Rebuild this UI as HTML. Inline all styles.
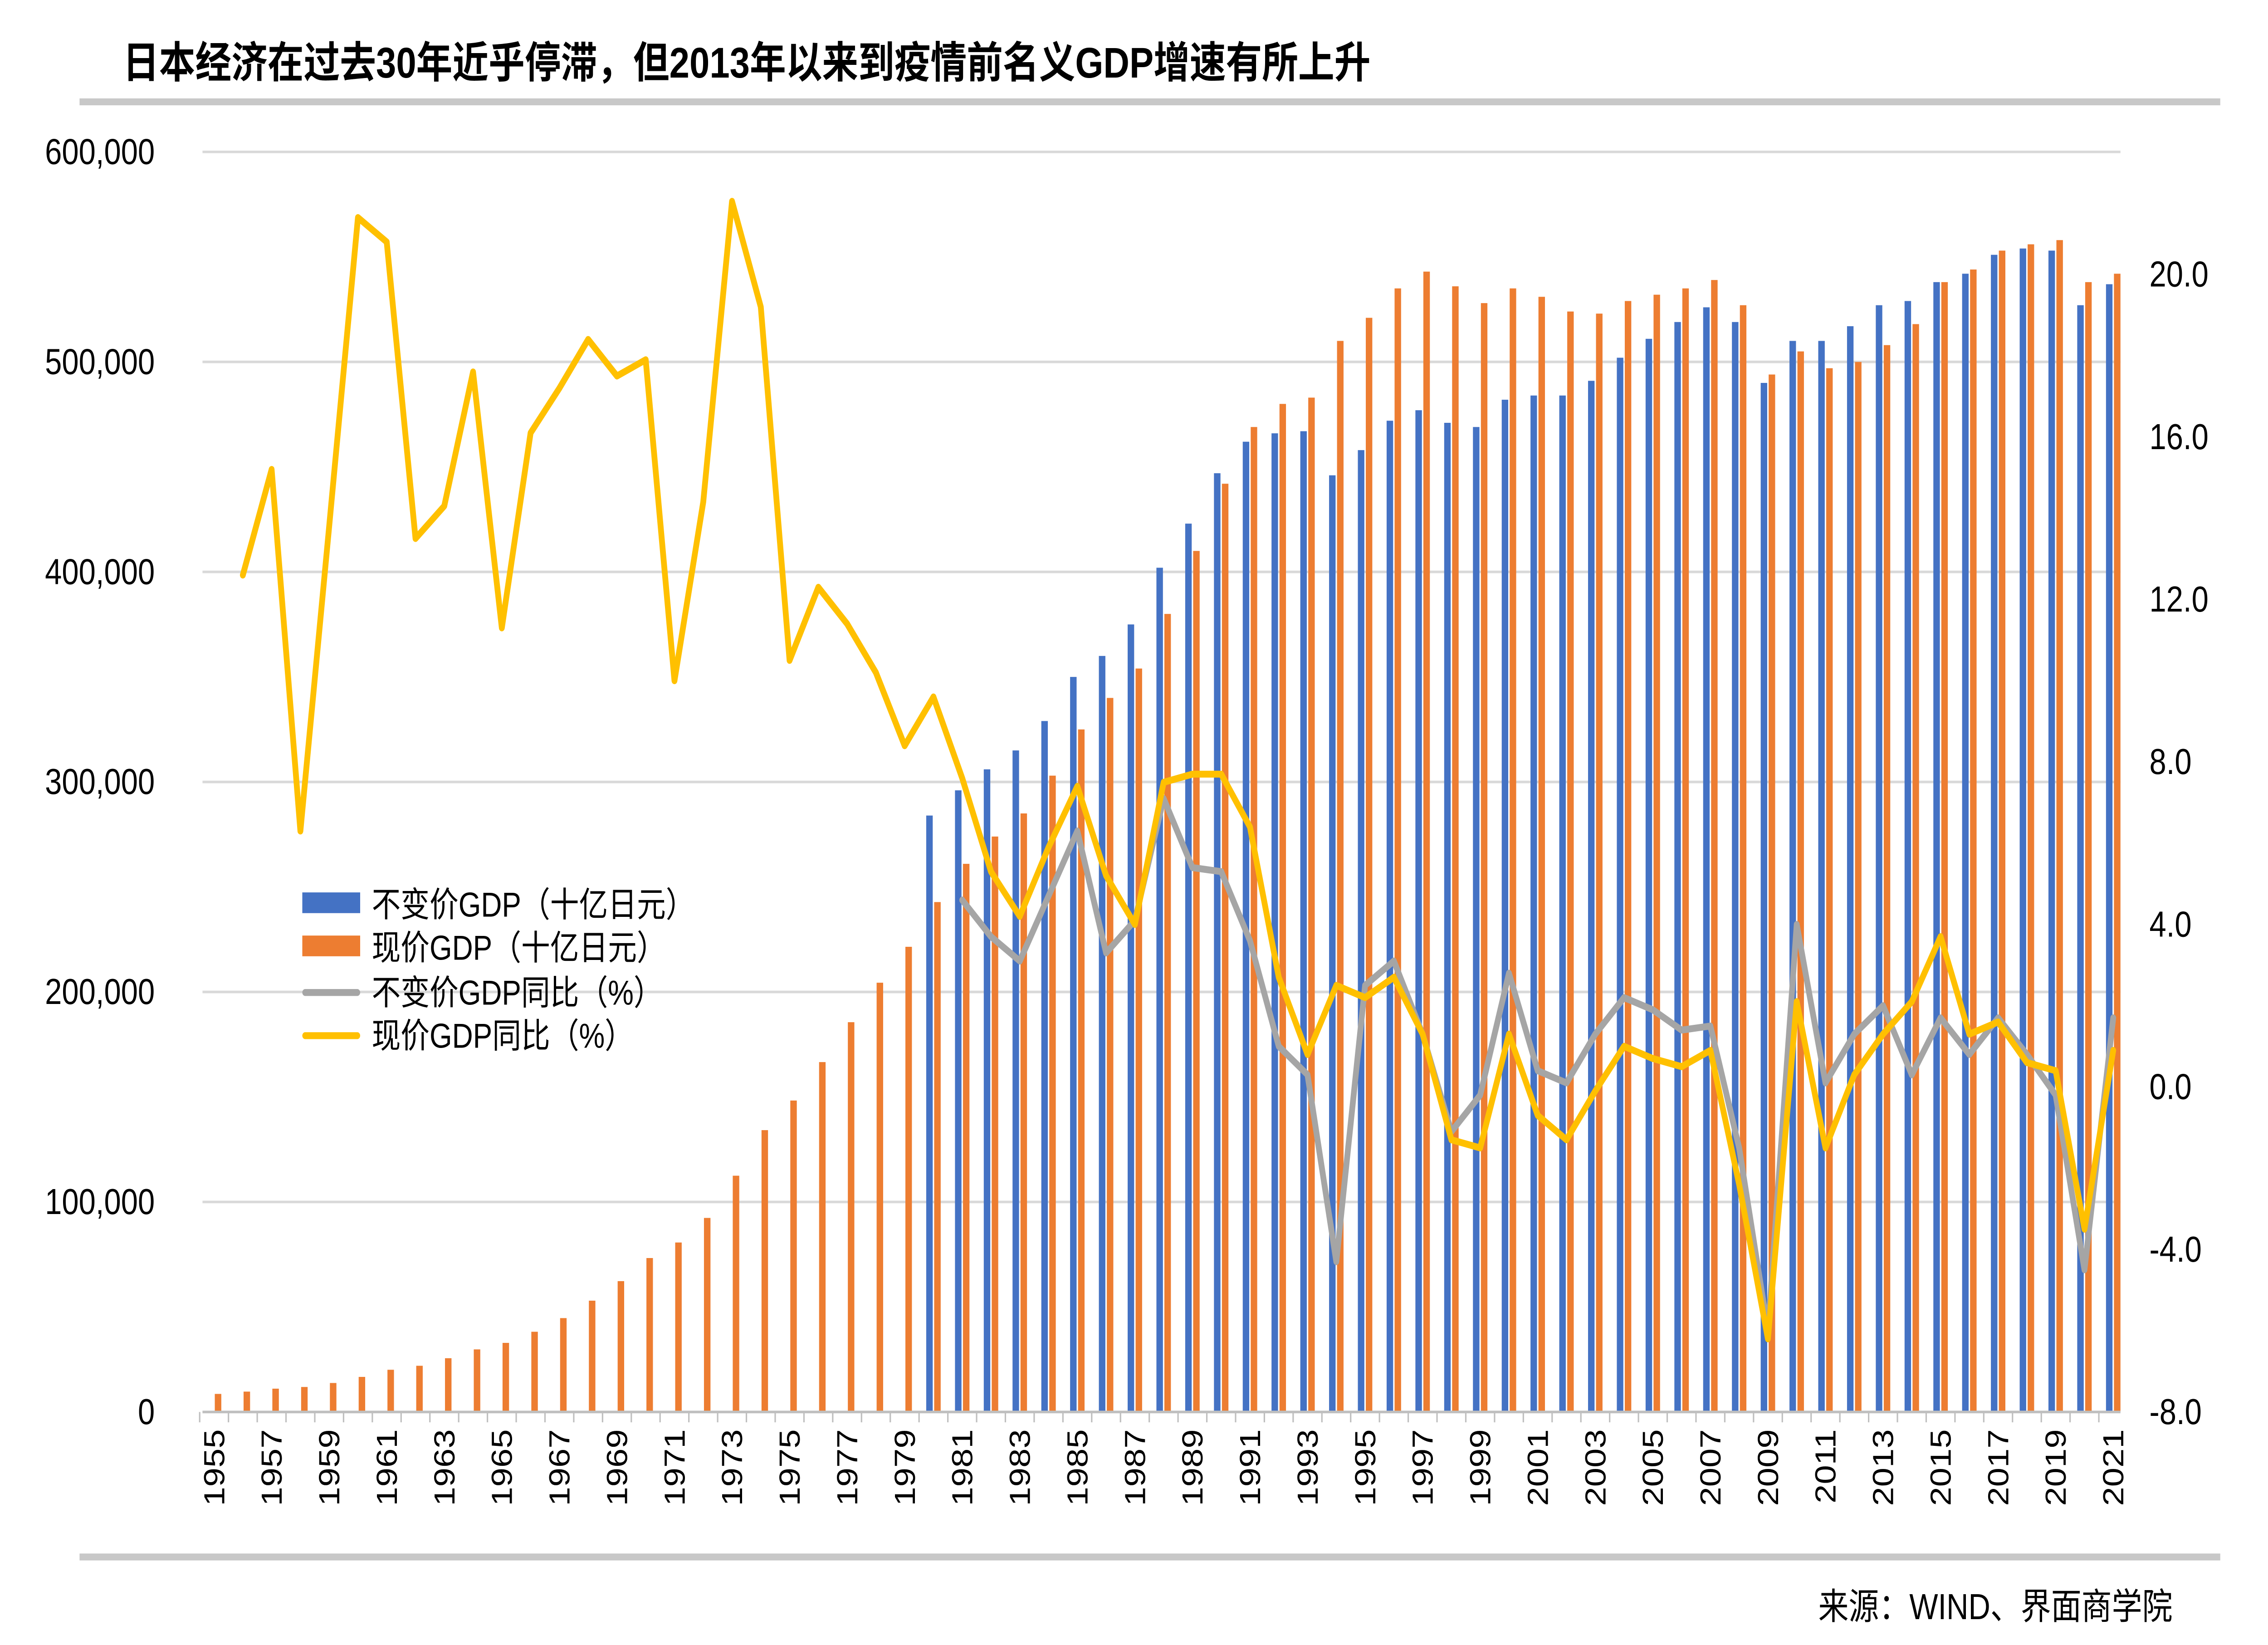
<!DOCTYPE html>
<html><head><meta charset="utf-8">
<style>
html,body{margin:0;padding:0;background:#fff;overflow:hidden;width:100%;height:100%;}
svg{display:block;position:absolute;left:0;top:0;width:100vw;height:100vh;}
text{font-family:"Liberation Sans","Noto Sans CJK SC",sans-serif;fill:#000;}
</style></head>
<body>
<svg id="chart" viewBox="0 0 1568 953" preserveAspectRatio="none" xmlns="http://www.w3.org/2000/svg">
<rect x="0" y="0" width="1568" height="953" fill="#fff"/>
<text x="85" y="45" font-size="25" font-weight="bold">日本经济在过去30年近乎停滞，但2013年以来到疫情前名义GDP增速有所上升</text>
<line x1="55" y1="59" x2="1535" y2="59" stroke="#c8c8c8" stroke-width="4"/>
<line x1="55" y1="902" x2="1535" y2="902" stroke="#c8c8c8" stroke-width="4"/>
<text x="1502" y="938" font-size="21" text-anchor="end">来源：WIND、界面商学院</text>
<g id="grid"></g><g id="bars"></g><g id="lines"></g><g id="axes"></g>
<g>
<rect x="209" y="517" width="40" height="12" fill="#4472c4"/>
<text x="257" y="531" font-size="20">不变价GDP（十亿日元）</text>
<rect x="209" y="542" width="40" height="12" fill="#ed7d31"/>
<text x="257" y="556" font-size="20">现价GDP（十亿日元）</text>
<line x1="211" y1="575" x2="247" y2="575" stroke="#a5a5a5" stroke-width="4" stroke-linecap="round"/>
<text x="257" y="582" font-size="20">不变价GDP同比（%）</text>
<line x1="211" y1="600" x2="247" y2="600" stroke="#ffc000" stroke-width="4" stroke-linecap="round"/>
<text x="257" y="607" font-size="20">现价GDP同比（%）</text>
</g>
</svg>
<script>
const years = [];
for (let y = 1955; y <= 2021; y++) years.push(y);
const nominalGDP = [8.6,9.7,11.1,11.9,13.8,16.7,20.1,22.0,25.6,29.8,32.9,38.2,44.7,53.0,62.3,73.3,80.7,92.4,112.5,134.2,148.3,166.6,185.6,204.4,221.5,242.8,261,274,285,303,325,340,354,380,410,442,469,480,483,510,521,535,543,536,528,535,531,524,523,529,532,535,539,527,494,505,497,500,508,518,538,544,553,556,558,538,542];
const realGDPStart = 1980;
const realGDP = [284,296,306,315,329,350,360,375,402,423,447,462,466,467,446,458,472,477,471,469,482,484,484,491,502,511,519,526,519,490,510,510,517,527,529,538,542,551,554,553,527,537];
const nominalGrowthStart = 1956;
const nominalGrowth = [12.6,15.2,6.3,13.8,21.4,20.8,13.5,14.3,17.6,11.3,16.1,17.2,18.4,17.5,17.9,10.0,14.4,21.8,19.2,10.5,12.3,11.4,10.2,8.4,9.6,7.6,5.3,4.2,5.9,7.4,5.2,4.0,7.5,7.7,7.7,6.4,2.7,0.8,2.5,2.2,2.7,1.3,-1.3,-1.5,1.3,-0.7,-1.3,-0.1,1.0,0.7,0.5,0.9,-2.4,-6.2,2.1,-1.5,0.3,1.3,2.1,3.7,1.3,1.6,0.6,0.4,-3.5,0.9];
const realGrowthStart = 1981;
const realGrowth = [4.6,3.7,3.1,4.7,6.3,3.3,4.1,7.1,5.4,5.3,3.6,1.0,0.3,-4.3,2.5,3.1,1.3,-1.1,-0.2,2.8,0.4,0.1,1.3,2.2,1.9,1.4,1.5,-1.5,-6.0,4.0,0.1,1.3,2.0,0.3,1.7,0.8,1.7,0.8,-0.2,-4.5,1.7];
const leftTicks = [0,100000,200000,300000,400000,500000,600000];
const leftTickLabels = ["0","100,000","200,000","300,000","400,000","500,000","600,000"];
const rightTicks = [-8,-4,0,4,8,12,16,20];
const rightTickLabels = ["-8.0","-4.0","0.0","4.0","8.0","12.0","16.0","20.0"];

const NS = "http://www.w3.org/2000/svg";
const X0 = 148, STEP = (1461 - 148) / 66;
function xOf(year){ return X0 + (year - 1955) * STEP; }
function yL(v){ return 818 - v / 600000 * 730; }
function yR(v){ return 818 - (v + 8) / 28 * 659; }
function mk(tag, attrs, parent){
  const e = document.createElementNS(NS, tag);
  for (const k in attrs) e.setAttribute(k, attrs[k]);
  parent.appendChild(e); return e;
}
const grid = document.getElementById('grid'), bars = document.getElementById('bars'),
      lines = document.getElementById('lines'), axes = document.getElementById('axes');

leftTicks.forEach((t, i) => {
  const y = yL(t);
  if (t !== 0) {
    const g = mk('line', {x1:140, x2:1466, y1:y, y2:y, stroke:'#d9d9d9', 'stroke-width':1.5}, grid);
    
    
  }
  const tx = mk('text', {x:107, y:y+7, 'font-size':21, 'text-anchor':'end'}, axes);
  tx.textContent = leftTickLabels[i];
  
  
});
rightTicks.forEach((t, i) => {
  const tx = mk('text', {x:1486, y:yR(t)+7, 'font-size':21}, axes);
  tx.textContent = rightTickLabels[i];
  
  
});
const ax = mk('line', {x1:140, x2:1466, y1:818, y2:818, stroke:'#bfbfbf', 'stroke-width':1.5}, axes);


years.forEach((yr, i) => {
  const x = xOf(yr);
  const tk = mk('line', {x1:x - STEP/2, x2:x - STEP/2, y1:818, y2:824, stroke:'#bfbfbf', 'stroke-width':1}, axes);
  
  
  if (i % 2 === 0) {
    const tx = mk('text', {x:0, y:0, 'font-size':20, 'text-anchor':'end',
      transform:'translate(' + (x + 7) + ',828) rotate(-90)'}, axes);
    tx.textContent = String(yr);
    
    
  }
});

nominalGDP.forEach((v, i) => {
  const x = xOf(years[i]);
  const y = yL(v * 1000);
  const r = mk('rect', {x:x + 0.5, y:y, width:4.5, height:818 - y, fill:'#ed7d31'}, bars);
  
  
});
realGDP.forEach((v, i) => {
  const x = xOf(realGDPStart + i);
  const y = yL(v * 1000);
  const r = mk('rect', {x:x - 5, y:y, width:4.5, height:818 - y, fill:'#4472c4'}, bars);
  
  
});
function poly(data, start, color, name){
  const pts = data.map((v, i) => xOf(start + i).toFixed(2) + ',' + yR(v).toFixed(2)).join(' ');
  const p = mk('polyline', {points:pts, fill:'none', stroke:color, 'stroke-width':4, 'stroke-linejoin':'round', 'stroke-linecap':'round'}, lines);
  
  
}
poly(realGrowth, realGrowthStart, '#a5a5a5', 'line-real-gdp-growth');
poly(nominalGrowth, nominalGrowthStart, '#ffc000', 'line-nominal-gdp-growth');
</script>
</body></html>
